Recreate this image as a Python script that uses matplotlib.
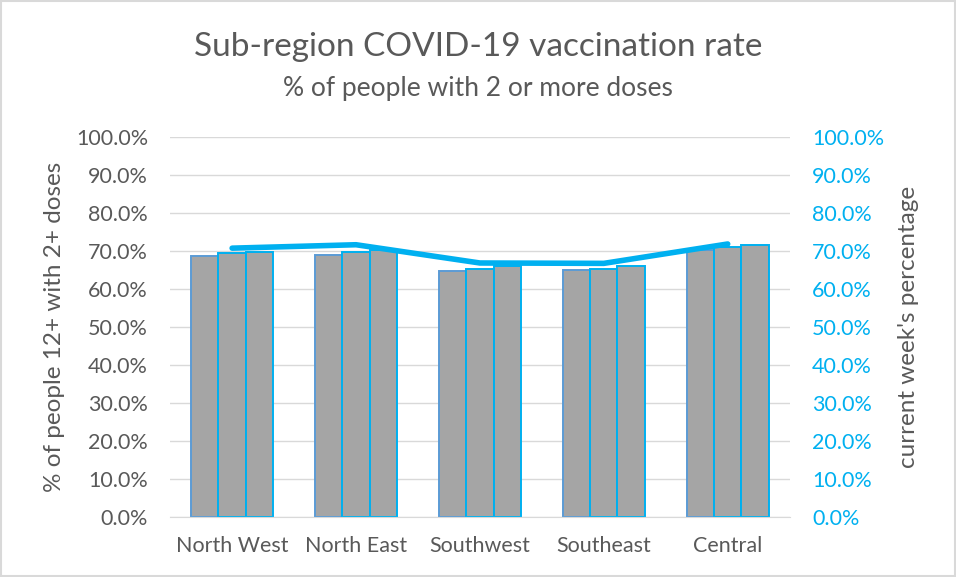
import matplotlib.pyplot as plt
import numpy as np
from matplotlib.ticker import PercentFormatter

plt.rcParams['font.family'] = ['Lato', 'DejaVu Sans']

# data
regions = ['North West', 'North East', 'Southwest', 'Southeast', 'Central']
week1 = [68.7, 68.9, 64.7, 65.0, 70.1]
week2 = [69.3, 69.8, 65.3, 65.3, 70.9]
week3 = [69.8, 70.2, 65.9, 66.1, 71.4]
current = [70.7, 71.6, 66.8, 66.7, 71.8]

grey_txt = '#595959'
cyan = '#00B0F0'

fig = plt.figure(figsize=(9.56, 5.77), dpi=100)
ax = fig.add_axes([0.178, 0.104, 0.648, 0.659])

x = np.arange(len(regions))
w = 0.22
ax.bar(x - w, week1, w, color='#A5A5A5', edgecolor='#5B9BD5', linewidth=1.4, zorder=2)
ax.bar(x, week2, w, color='#A5A5A5', edgecolor=cyan, linewidth=1.4, zorder=2)
ax.bar(x + w, week3, w, color='#A5A5A5', edgecolor=cyan, linewidth=1.4, zorder=2)

ax.set_xlim(-0.5, 4.5)
ax.set_ylim(0, 100)
ax.set_yticks(np.arange(0, 101, 10))
ax.yaxis.set_major_formatter(PercentFormatter(decimals=1))
ax.grid(axis='y', color='#D9D9D9', linewidth=1, zorder=0)
ax.set_axisbelow(True)
for s in ['top', 'left', 'right']:
    ax.spines[s].set_visible(False)
ax.spines['bottom'].set_color('#D9D9D9')
ax.tick_params(length=0, labelsize=15.5, colors=grey_txt, pad=16)
ax.tick_params(axis='x', pad=14)
ax.set_xticks(x)
ax.set_xticklabels(regions)
ax.set_ylabel('% of people 12+ with 2+ doses', fontsize=17.5, color=grey_txt, labelpad=8)

ax2 = ax.twinx()
ax2.plot(x, current, color=cyan, linewidth=4, solid_capstyle='round', zorder=3)
ax2.set_ylim(0, 100)
ax2.set_yticks(np.arange(0, 101, 10))
ax2.yaxis.set_major_formatter(PercentFormatter(decimals=1))
for s in ['top', 'left', 'right', 'bottom']:
    ax2.spines[s].set_visible(False)
ax2.tick_params(length=0, labelsize=15.5, colors=cyan, pad=16)
ax2.set_ylabel("current week's percentage", fontsize=17.5, color=grey_txt, labelpad=10)

fig.text(0.5, 0.918, 'Sub-region COVID-19 vaccination rate', ha='center', va='center',
         fontsize=24, color=grey_txt)
fig.text(0.5, 0.847, '% of people with 2 or more doses', ha='center', va='center',
         fontsize=19, color=grey_txt)

# chart border
fig.patches.append(plt.Rectangle((0.001, 0.001), 0.998, 0.998, transform=fig.transFigure,
                                 fill=False, edgecolor='#D9D9D9', linewidth=1.5))

fig.savefig('out.png', dpi=100)
